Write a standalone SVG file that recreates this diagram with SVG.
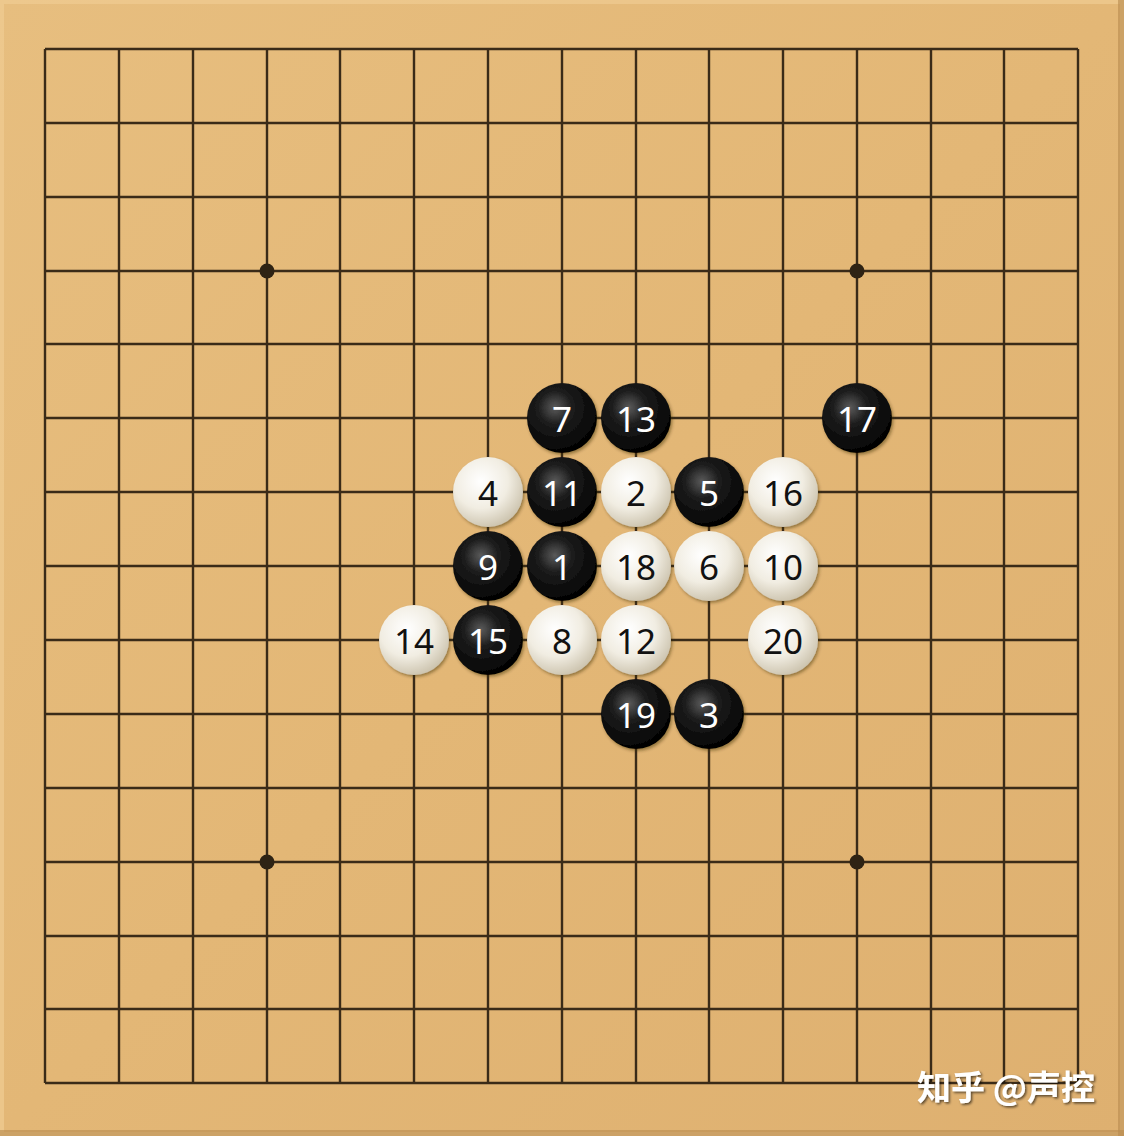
<svg xmlns="http://www.w3.org/2000/svg" width="1124" height="1136" viewBox="0 0 1124 1136">
<defs>
<linearGradient id="wood" x1="0" y1="0" x2="1" y2="1">
<stop offset="0" stop-color="#E7BE7F"/>
<stop offset="0.5" stop-color="#E3B776"/>
<stop offset="1" stop-color="#DEB070"/>
</linearGradient>
<radialGradient id="bstone" cx="0.4" cy="0.35" r="0.7">
<stop offset="0" stop-color="#5a5a5a"/>
<stop offset="0.35" stop-color="#1c1c1c"/>
<stop offset="1" stop-color="#000000"/>
</radialGradient>
<radialGradient id="wstone" cx="0.4" cy="0.35" r="0.7">
<stop offset="0" stop-color="#ffffff"/>
<stop offset="0.55" stop-color="#f1ede2"/>
<stop offset="1" stop-color="#c9c0aa"/>
</radialGradient>
<filter id="sh" x="-20%" y="-20%" width="150%" height="150%">
<feDropShadow dx="1.5" dy="2" stdDeviation="1.5" flood-color="#3a2a10" flood-opacity="0.45"/>
</filter>
<filter id="tsh" x="-10%" y="-30%" width="120%" height="160%">
<feDropShadow dx="1.5" dy="1.5" stdDeviation="1" flood-color="#000" flood-opacity="0.6"/>
</filter>
</defs>
<style>
.grid line{stroke:#3a2b18;stroke-width:2.4}
.star{fill:#2e2314}
.b circle{fill:url(#bstone);filter:url(#sh)}
.w circle{fill:url(#wstone);filter:url(#sh)}
.stone text{font-family:"Noto Sans","DejaVu Sans",sans-serif;font-size:35px;text-anchor:middle;dominant-baseline:central}
.b text{fill:#ffffff}
.w text{fill:#111111}
.wm{font-family:"Noto Sans CJK SC","Noto Sans",sans-serif;font-size:34px;font-weight:bold;fill:#ffffff;filter:url(#tsh)}
</style>
<rect width="1124" height="1136" fill="url(#wood)"/>
<rect x="2" y="2" width="1120" height="1132" fill="none" stroke="#efcc93" stroke-width="4" opacity="0.7"/>
<rect x="1118" y="0" width="6" height="1136" fill="#b88a4e" opacity="0.6"/>
<rect x="0" y="1130" width="1124" height="6" fill="#b88a4e" opacity="0.6"/>
<g id="grid" class="grid">
<line x1="45" y1="49" x2="1078" y2="49"/>
<line x1="45" y1="123" x2="1078" y2="123"/>
<line x1="45" y1="197" x2="1078" y2="197"/>
<line x1="45" y1="271" x2="1078" y2="271"/>
<line x1="45" y1="344" x2="1078" y2="344"/>
<line x1="45" y1="418" x2="1078" y2="418"/>
<line x1="45" y1="492" x2="1078" y2="492"/>
<line x1="45" y1="566" x2="1078" y2="566"/>
<line x1="45" y1="640" x2="1078" y2="640"/>
<line x1="45" y1="714" x2="1078" y2="714"/>
<line x1="45" y1="788" x2="1078" y2="788"/>
<line x1="45" y1="862" x2="1078" y2="862"/>
<line x1="45" y1="936" x2="1078" y2="936"/>
<line x1="45" y1="1009" x2="1078" y2="1009"/>
<line x1="45" y1="1083" x2="1078" y2="1083"/>
<line x1="45" y1="49" x2="45" y2="1083"/>
<line x1="119" y1="49" x2="119" y2="1083"/>
<line x1="193" y1="49" x2="193" y2="1083"/>
<line x1="267" y1="49" x2="267" y2="1083"/>
<line x1="340" y1="49" x2="340" y2="1083"/>
<line x1="414" y1="49" x2="414" y2="1083"/>
<line x1="488" y1="49" x2="488" y2="1083"/>
<line x1="562" y1="49" x2="562" y2="1083"/>
<line x1="636" y1="49" x2="636" y2="1083"/>
<line x1="709" y1="49" x2="709" y2="1083"/>
<line x1="783" y1="49" x2="783" y2="1083"/>
<line x1="857" y1="49" x2="857" y2="1083"/>
<line x1="931" y1="49" x2="931" y2="1083"/>
<line x1="1004" y1="49" x2="1004" y2="1083"/>
<line x1="1078" y1="49" x2="1078" y2="1083"/>
</g>
<g id="stars">
<circle class="star" cx="267" cy="271" r="7.5"/>
<circle class="star" cx="857" cy="271" r="7.5"/>
<circle class="star" cx="267" cy="862" r="7.5"/>
<circle class="star" cx="857" cy="862" r="7.5"/>
</g>
<g id="stones">
<g id="s1" class="stone b"><circle cx="562" cy="566" r="35"/><text x="562" y="566">1</text></g>
<g id="s2" class="stone w"><circle cx="636" cy="492" r="35"/><text x="636" y="492">2</text></g>
<g id="s3" class="stone b"><circle cx="709" cy="714" r="35"/><text x="709" y="714">3</text></g>
<g id="s4" class="stone w"><circle cx="488" cy="492" r="35"/><text x="488" y="492">4</text></g>
<g id="s5" class="stone b"><circle cx="709" cy="492" r="35"/><text x="709" y="492">5</text></g>
<g id="s6" class="stone w"><circle cx="709" cy="566" r="35"/><text x="709" y="566">6</text></g>
<g id="s7" class="stone b"><circle cx="562" cy="418" r="35"/><text x="562" y="418">7</text></g>
<g id="s8" class="stone w"><circle cx="562" cy="640" r="35"/><text x="562" y="640">8</text></g>
<g id="s9" class="stone b"><circle cx="488" cy="566" r="35"/><text x="488" y="566">9</text></g>
<g id="s10" class="stone w"><circle cx="783" cy="566" r="35"/><text x="783" y="566">10</text></g>
<g id="s11" class="stone b"><circle cx="562" cy="492" r="35"/><text x="562" y="492">11</text></g>
<g id="s12" class="stone w"><circle cx="636" cy="640" r="35"/><text x="636" y="640">12</text></g>
<g id="s13" class="stone b"><circle cx="636" cy="418" r="35"/><text x="636" y="418">13</text></g>
<g id="s14" class="stone w"><circle cx="414" cy="640" r="35"/><text x="414" y="640">14</text></g>
<g id="s15" class="stone b"><circle cx="488" cy="640" r="35"/><text x="488" y="640">15</text></g>
<g id="s16" class="stone w"><circle cx="783" cy="492" r="35"/><text x="783" y="492">16</text></g>
<g id="s17" class="stone b"><circle cx="857" cy="418" r="35"/><text x="857" y="418">17</text></g>
<g id="s18" class="stone w"><circle cx="636" cy="566" r="35"/><text x="636" y="566">18</text></g>
<g id="s19" class="stone b"><circle cx="636" cy="714" r="35"/><text x="636" y="714">19</text></g>
<g id="s20" class="stone w"><circle cx="783" cy="640" r="35"/><text x="783" y="640">20</text></g>
</g>
<text class="wm" x="917" y="1100">知乎 @声控</text>
</svg>
